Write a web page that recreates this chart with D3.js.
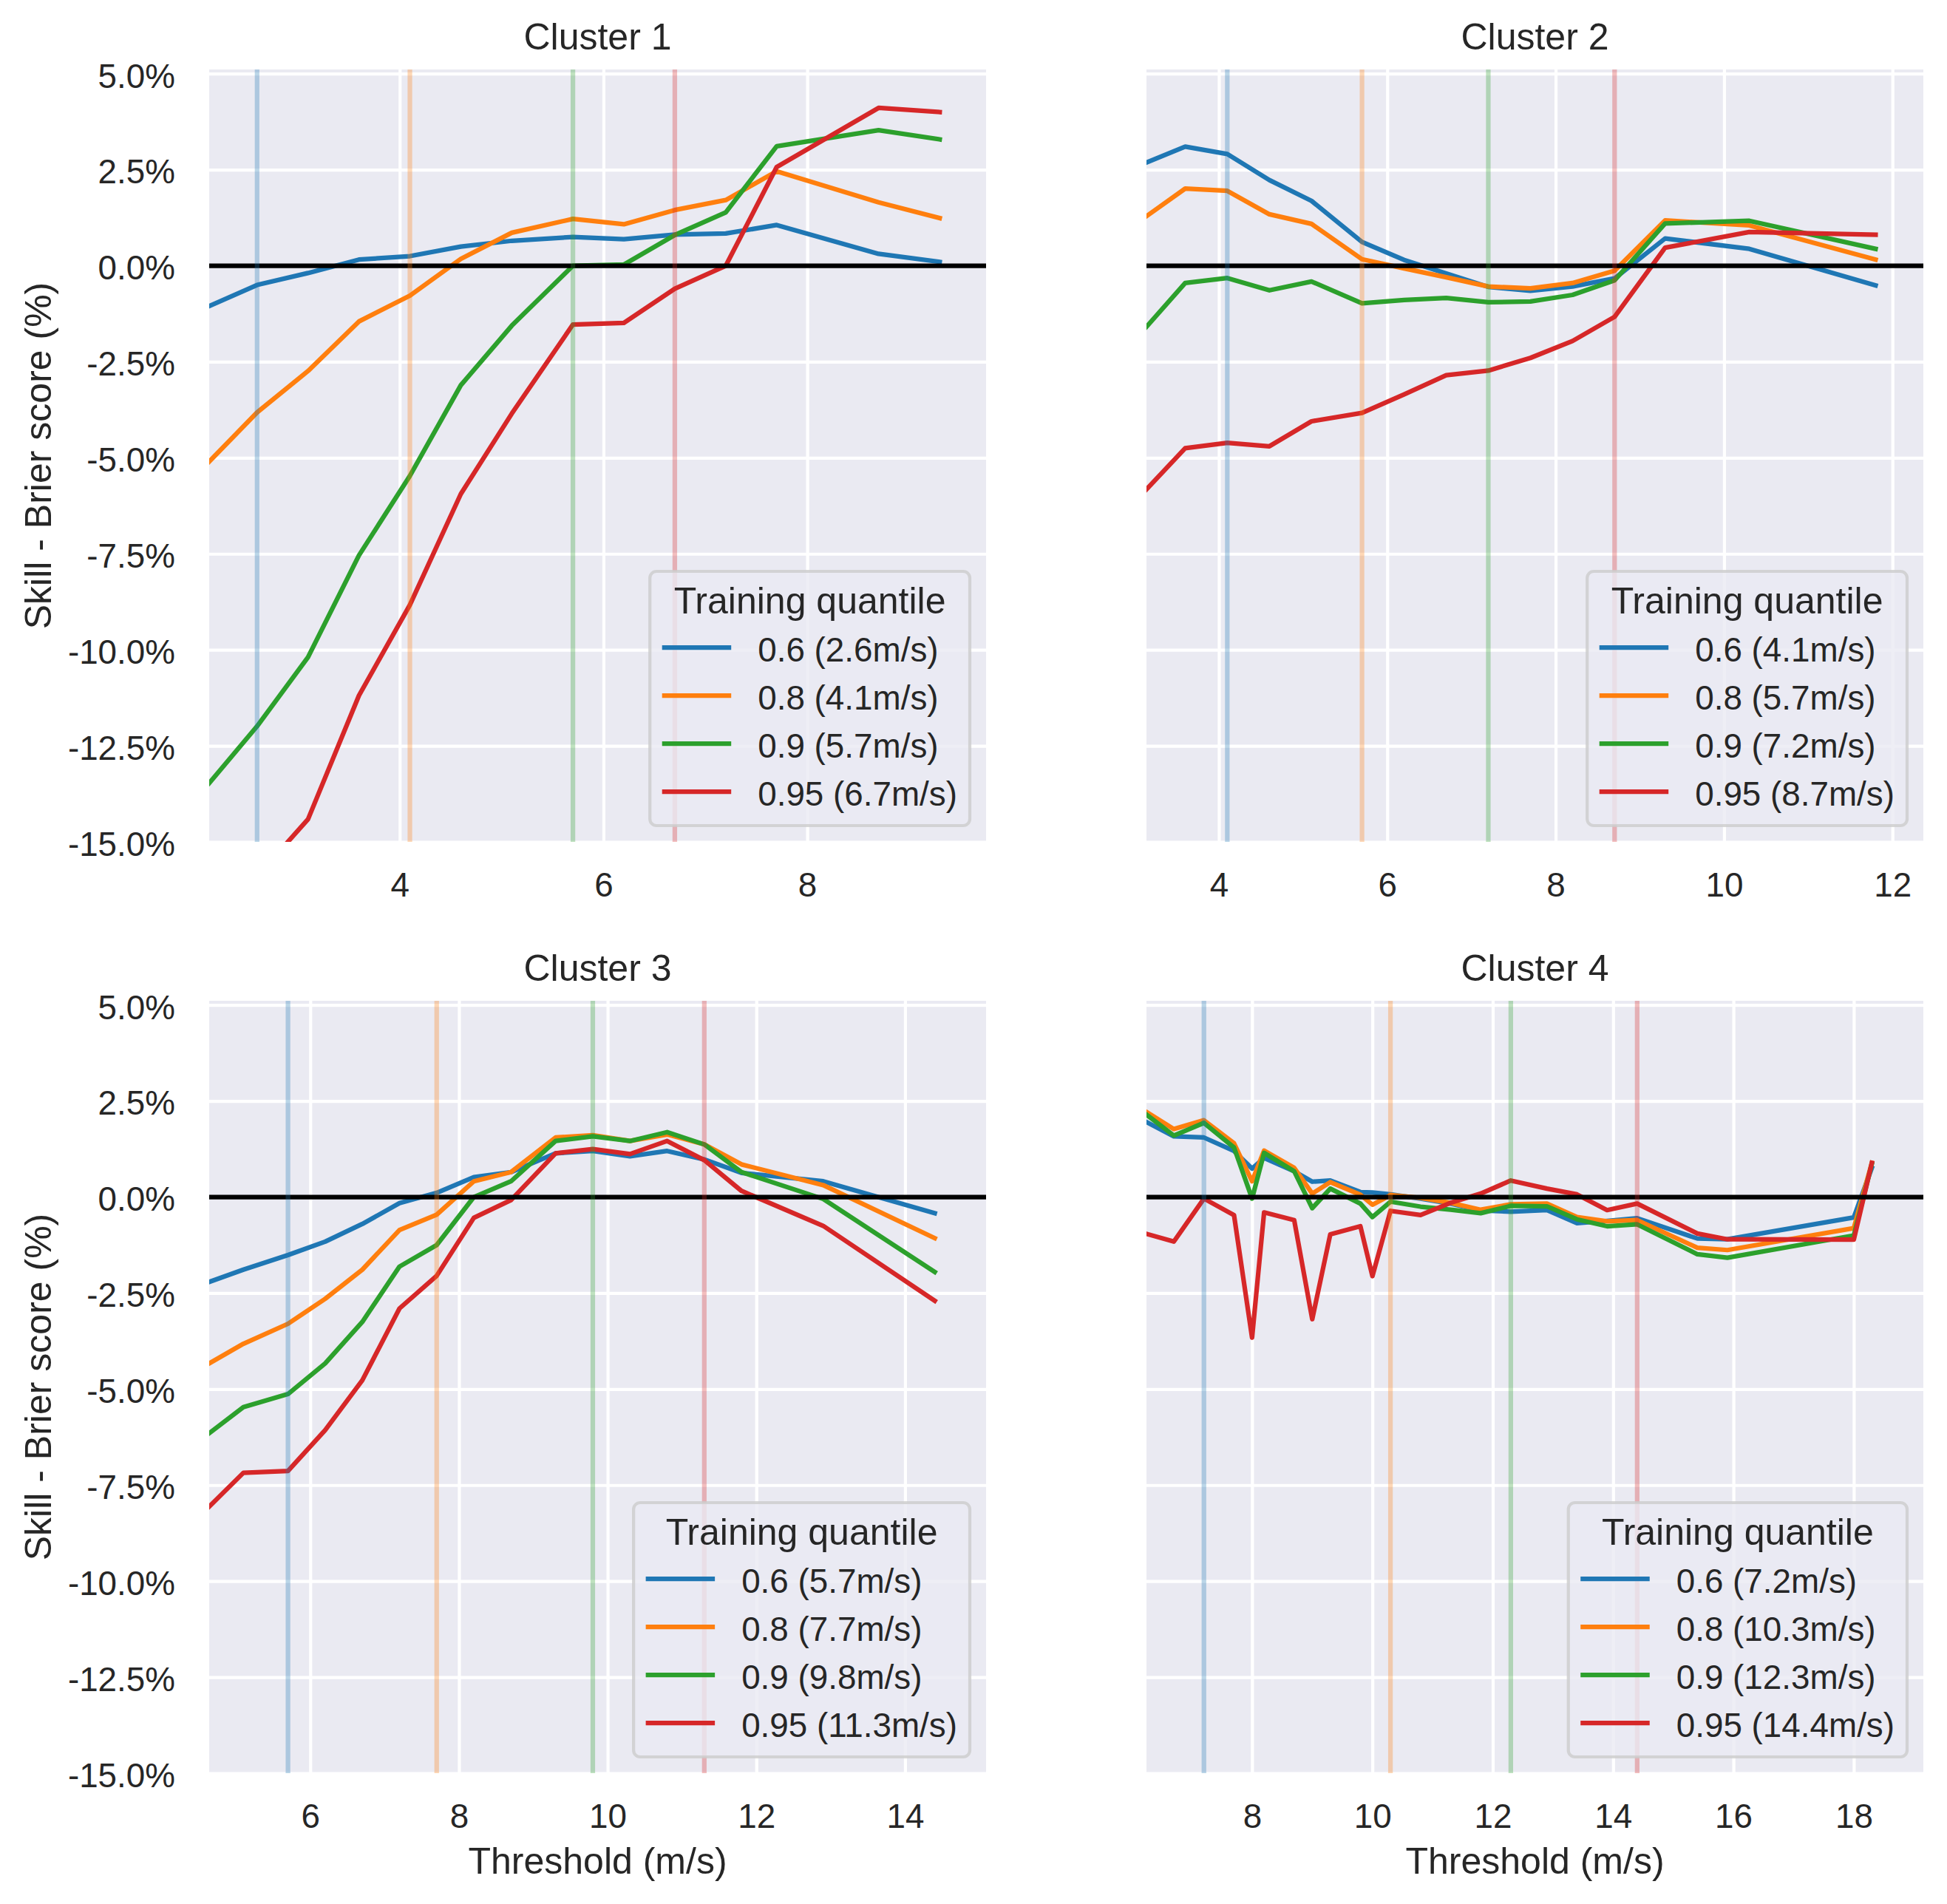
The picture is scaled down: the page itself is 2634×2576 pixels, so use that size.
<!DOCTYPE html>
<html>
  <head>
    <meta charset="utf-8">
    <script src="https://d3js.org/d3.v7.min.js"></script>
    <style>
      body { margin: 0; background: #fff; }
      text { font-family: "Liberation Sans", Arial, sans-serif; fill: #262626; }
    </style>
  </head>
  <body>
    <div id="chart"></div>
    <script>
      // values (skill in %, threshold in m/s)
      var clusters = ["Cluster 1", "Cluster 2", "Cluster 3", "Cluster 4"];
      var quantiles = ["0.6", "0.8", "0.9", "0.95"];
      var trainSpeeds = [[2.6, 4.1, 5.7, 6.7], [4.1, 5.7, 7.2, 8.7], [5.7, 7.7, 9.8, 11.3], [7.2, 10.3, 12.3, 14.4]];

      var thr1 = [2.13, 2.6, 3.1, 3.6, 4.1, 4.6, 5.1, 5.7, 6.2, 6.7, 7.2, 7.7, 8.7, 9.3];
      var c1q60 = [-1.05, -0.50, -0.19, 0.16, 0.25, 0.50, 0.65, 0.75, 0.69, 0.81, 0.84, 1.06, 0.31, 0.10];
      var c1q80 = [-5.10, -3.82, -2.74, -1.45, -0.78, 0.18, 0.86, 1.22, 1.08, 1.45, 1.71, 2.46, 1.65, 1.24];
      var c1q90 = [-13.47, -11.99, -10.19, -7.54, -5.47, -3.11, -1.56, 0.0, 0.03, 0.80, 1.39, 3.11, 3.53, 3.29];
      var c1q95 = [-17.5, -15.9, -14.41, -11.19, -8.83, -5.94, -3.85, -1.53, -1.49, -0.60, 0.0, 2.57, 4.11, 4.00];

      var thr2 = [3.14, 3.6, 4.1, 4.6, 5.1, 5.7, 6.2, 6.7, 7.2, 7.7, 8.2, 8.7, 9.3, 10.3, 11.8];
      var c2q60 = [2.69, 3.10, 2.91, 2.23, 1.69, 0.62, 0.15, -0.20, -0.55, -0.65, -0.54, -0.33, 0.71, 0.44, -0.51];
      var c2q80 = [1.29, 2.01, 1.95, 1.34, 1.09, 0.17, -0.07, -0.30, -0.54, -0.59, -0.45, -0.13, 1.18, 1.05, 0.16];
      var c2q90 = [-1.59, -0.45, -0.32, -0.64, -0.41, -0.98, -0.89, -0.84, -0.95, -0.93, -0.76, -0.38, 1.10, 1.17, 0.44];
      var c2q95 = [-5.82, -4.75, -4.61, -4.70, -4.05, -3.83, -3.35, -2.85, -2.73, -2.40, -1.96, -1.33, 0.47, 0.88, 0.81];

      var thr3 = [4.64, 5.1, 5.7, 6.2, 6.7, 7.2, 7.7, 8.2, 8.7, 9.3, 9.8, 10.3, 10.8, 11.3, 11.8, 12.9, 14.4];
      var c3q60 = [-2.21, -1.89, -1.51, -1.16, -0.70, -0.16, 0.11, 0.52, 0.65, 1.14, 1.20, 1.06, 1.20, 0.98, 0.63, 0.41, -0.42];
      var c3q80 = [-4.33, -3.82, -3.30, -2.65, -1.89, -0.86, -0.46, 0.41, 0.65, 1.55, 1.61, 1.46, 1.63, 1.37, 0.85, 0.31, -1.07];
      var c3q90 = [-6.15, -5.47, -5.13, -4.33, -3.25, -1.81, -1.25, 0.0, 0.41, 1.46, 1.58, 1.46, 1.69, 1.37, 0.65, -0.05, -1.95];
      var c3q95 = [-8.06, -7.18, -7.13, -6.07, -4.77, -2.90, -2.05, -0.54, -0.08, 1.14, 1.25, 1.12, 1.46, 0.96, 0.16, -0.75, -2.70];

      var thr4 = [6.25, 6.7, 7.2, 7.7, 8.0, 8.2, 8.7, 9.0, 9.3, 9.8, 10.0, 10.3, 10.8, 11.3, 11.8, 12.3, 12.9, 13.4, 13.9, 14.4, 15.4, 15.9, 18.0, 18.3];
      var c4q60 = [1.95, 1.58, 1.55, 1.20, 0.74, 1.02, 0.67, 0.40, 0.43, 0.13, 0.12, 0.07, -0.04, -0.17, -0.35, -0.38, -0.34, -0.68, -0.62, -0.55, -1.08, -1.10, -0.53, 0.76];
      var c4q80 = [2.21, 1.77, 2.00, 1.40, 0.41, 1.21, 0.76, 0.09, 0.39, 0.06, -0.20, 0.05, -0.02, -0.15, -0.33, -0.19, -0.17, -0.52, -0.63, -0.60, -1.32, -1.38, -0.81, 0.89];
      var c4q90 = [2.14, 1.60, 1.93, 1.29, -0.04, 1.15, 0.67, -0.29, 0.22, -0.17, -0.52, -0.12, -0.25, -0.33, -0.42, -0.23, -0.24, -0.58, -0.76, -0.71, -1.49, -1.58, -1.00, 0.86];
      var c4q95 = [-0.96, -1.16, -0.04, -0.47, -3.66, -0.40, -0.60, -3.18, -0.97, -0.76, -2.06, -0.36, -0.47, -0.15, 0.09, 0.43, 0.22, 0.07, -0.34, -0.17, -0.95, -1.10, -1.11, 0.89];

      var thresholds = [thr1, thr2, thr3, thr4];
      var skills = [[c1q60, c1q80, c1q90, c1q95], [c2q60, c2q80, c2q90, c2q95],
                    [c3q60, c3q80, c3q90, c3q95], [c4q60, c4q80, c4q90, c4q95]];

      var xTicks = [[4, 6, 8], [4, 6, 8, 10, 12], [6, 8, 10, 12, 14], [8, 10, 12, 14, 16, 18]];
      var yTicks = [-15, -12.5, -10, -7.5, -5, -2.5, 0, 2.5, 5];
      var xLimits = [[2.13, 9.755], [3.14, 12.367], [4.64, 15.09], [6.245, 19.156]];
      var yLimits = [-15, 5.11];

      var colors = ["#1f77b4", "#ff7f0e", "#2ca02c", "#d62728"];
      var W = 2634, H = 2576;
      var pw = 1051, ph = 1045;
      var lefts = [283, 1551], tops = [94, 1354];
      var lw = 6.25;

      var svg = d3.select("#chart").append("svg")
          .attr("width", W)
          .attr("height", H);

      clusters.forEach(function(name, i) {
        var col = i % 2, row = Math.floor(i / 2);
        var g = svg.append("g")
            .attr("transform", "translate(" + lefts[col] + "," + tops[row] + ")");

        var x = d3.scaleLinear().domain(xLimits[i]).range([0, pw]);
        var y = d3.scaleLinear().domain(yLimits).range([ph, 0]);

        g.append("clipPath").attr("id", "clip" + i)
          .append("rect").attr("width", pw).attr("height", ph);

        g.append("rect")
            .attr("width", pw)
            .attr("height", ph)
            .attr("fill", "#eaeaf2");

        // grid + tick labels
        var xa = g.append("g")
            .attr("transform", "translate(0," + ph + ")")
            .call(d3.axisBottom(x).tickValues(xTicks[i]).tickSize(-ph).tickPadding(41).tickFormat(d3.format("d")));
        var ya = g.append("g")
            .call(d3.axisLeft(y).tickValues(yTicks).tickSize(-pw).tickPadding(46)
              .tickFormat(col == 0 ? function(d) { return d.toFixed(1) + "%"; } : ""));
        [xa, ya].forEach(function(a) {
          a.select(".domain").remove();
          a.selectAll(".tick line").attr("stroke", "#fff").attr("stroke-width", 4.2);
          a.selectAll(".tick text")
              .attr("font-size", 45.8)
              .attr("font-family", "Liberation Sans, Arial, sans-serif")
              .attr("fill", "#262626");
        });
        ya.selectAll(".tick text").attr("dy", "0.40em");

        var plot = g.append("g").attr("clip-path", "url(#clip" + i + ")");
        var line = d3.line()
            .x(function(d, k) { return x(thresholds[i][k]); })
            .y(function(d) { return y(d); });

        skills[i].forEach(function(s, q) {
          plot.append("path")
              .attr("d", line(s))
              .attr("fill", "none")
              .attr("stroke", colors[q])
              .attr("stroke-width", lw)
              .attr("stroke-linejoin", "round")
              .attr("stroke-linecap", "square");
        });

        plot.append("line")
            .attr("x1", 0).attr("x2", pw)
            .attr("y1", y(0)).attr("y2", y(0))
            .attr("stroke", "#000")
            .attr("stroke-width", lw);

        trainSpeeds[i].forEach(function(v, q) {
          plot.append("line")
              .attr("x1", x(v)).attr("x2", x(v))
              .attr("y1", 0).attr("y2", ph)
              .attr("stroke", colors[q])
              .attr("stroke-opacity", 0.3)
              .attr("stroke-width", lw);
        });

        // title and axis labels
        g.append("text")
            .attr("x", pw / 2)
            .attr("y", -27)
            .attr("text-anchor", "middle")
            .attr("font-size", 50)
            .text(name);

        if (col == 0) {
          svg.append("text")
              .attr("transform", "translate(69," + (tops[row] + ph / 2) + ") rotate(-90)")
              .attr("text-anchor", "middle")
              .attr("font-size", 50)
              .text("Skill - Brier score (%)");
        }
        if (row == 1) {
          g.append("text")
              .attr("x", pw / 2)
              .attr("y", ph + 136)
              .attr("text-anchor", "middle")
              .attr("font-size", 50)
              .text("Threshold (m/s)");
        }

        // legend
        var lg = g.append("g");
        var box = lg.append("rect")
            .attr("rx", 9).attr("ry", 9)
            .attr("height", 344)
            .attr("fill", "#eaeaf2")
            .attr("fill-opacity", 0.8)
            .attr("stroke", "#cccccc")
            .attr("stroke-opacity", 0.8)
            .attr("stroke-width", 4.2);
        var title = lg.append("text")
            .attr("y", 57)
            .attr("text-anchor", "middle")
            .attr("font-size", 50)
            .text("Training quantile");
        var maxLen = 0;
        quantiles.forEach(function(qn, q) {
          var yy = 103 + q * 65;
          lg.append("line")
              .attr("x1", 16.5).attr("x2", 110)
              .attr("y1", yy).attr("y2", yy)
              .attr("stroke", colors[q])
              .attr("stroke-width", lw);
          var t = lg.append("text")
              .attr("x", 146)
              .attr("y", yy + 19)
              .attr("font-size", 45.8)
              .text(qn + " (" + trainSpeeds[i][q] + "m/s)");
          maxLen = Math.max(maxLen, t.node().getComputedTextLength());
        });
        var bw = Math.max(146 + maxLen + 17, title.node().getComputedTextLength() + 40);
        box.attr("width", bw);
        title.attr("x", bw / 2);
        lg.attr("transform", "translate(" + (pw - 22 - bw) + "," + (ph - 22 - 344) + ")");
      });
    </script>
  </body>
</html>
